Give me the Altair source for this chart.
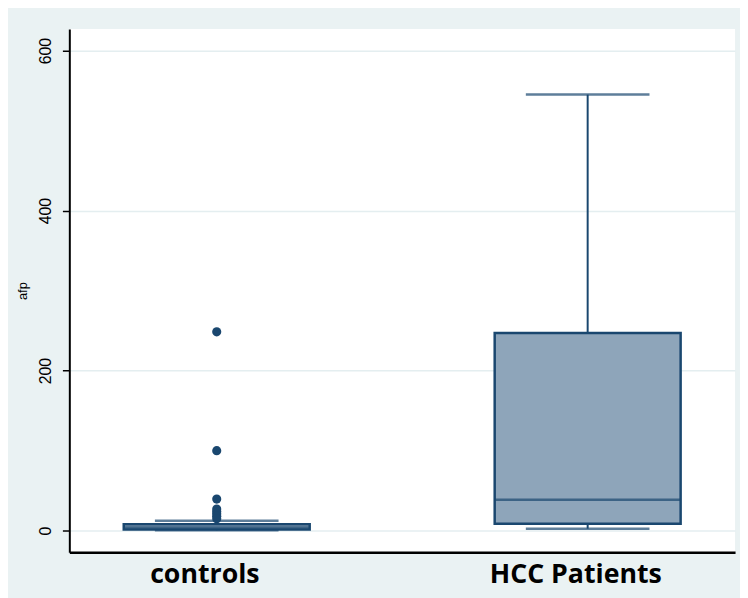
import altair as alt
import pandas as pd

# ---- data ----
groups = ["controls", "HCC Patients"]
whisker_low = [0.5, 2.5]
q1 = [1.5, 8.6]
median = [4.0, 38.7]
q3 = [8.0, 247.0]
whisker_high = [12.5, 545.0]

outlier_group = ["controls"] * 8
outlier_value = [248.5, 100.0, 39.5, 27.0, 24.0, 21.0, 18.0, 15.0]

y_ticks = [0, 200, 400, 600]

stats = pd.DataFrame({
    "group": groups,
    "lo": whisker_low,
    "q1": q1,
    "med": median,
    "q3": q3,
    "hi": whisker_high,
})
outs = pd.DataFrame({"group": outlier_group, "value": outlier_value})

NAVY = "#1A476F"
FILL = "#8EA5BA"

xscale = alt.Scale(domain=groups, paddingInner=0.4987, paddingOuter=0.1467)
yscale = alt.Scale(domain=[-27, 627], nice=False, zero=False)

x_enc = alt.X(
    "group:N",
    scale=xscale,
    sort=groups,
    axis=alt.Axis(
        title=None,
        labelAngle=0,
        labelFont="Open Sans",
        labelFontWeight="bold",
        labelFontSize=27,
        labelColor="#000000",
        labelPadding=10,
        labelOffset=-12,
        ticks=False,
        domainColor="#000000",
        domainWidth=2.5,
        grid=False,
    ),
)

y_axis = alt.Axis(
    title="afp",
    titleFont="Liberation Sans",
    titleFontWeight="normal",
    titleFontSize=13,
    titleColor="#000000",
    titleAngle=270,
    titlePadding=8,
    values=y_ticks,
    labelAngle=270,
    labelAlign="center",
    labelBaseline="bottom",
    labelFont="Liberation Sans",
    labelFontSize=16,
    labelColor="#000000",
    labelPadding=9,
    tickSize=7,
    tickColor="#000000",
    tickWidth=1.5,
    domainColor="#000000",
    domainWidth=2,
    grid=True,
    gridColor="#E4EEF0",
    gridWidth=1.5,
)

base = alt.Chart(stats)

lower_whisker = base.mark_rule(color=NAVY, strokeWidth=2).encode(
    x=x_enc,
    y=alt.Y("lo:Q", scale=yscale, axis=y_axis),
    y2="q1:Q",
)
upper_whisker = base.mark_rule(color=NAVY, strokeWidth=2).encode(
    x=x_enc,
    y=alt.Y("q3:Q", scale=yscale, axis=y_axis),
    y2="hi:Q",
)
box = base.mark_bar(fill=FILL, stroke=NAVY, strokeWidth=2.5).encode(
    x=x_enc,
    y=alt.Y("q1:Q", scale=yscale, axis=y_axis),
    y2="q3:Q",
)
med_tick = base.mark_tick(color=NAVY, size=188, thickness=2.5, orient="horizontal").encode(
    x=x_enc,
    y=alt.Y("med:Q", scale=yscale, axis=y_axis),
)
cap_hi = base.mark_tick(color=NAVY, size=125, thickness=2.5, orient="horizontal").encode(
    x=x_enc,
    y=alt.Y("hi:Q", scale=yscale, axis=y_axis),
)
cap_lo = base.mark_tick(color=NAVY, size=125, thickness=2.5, orient="horizontal").encode(
    x=x_enc,
    y=alt.Y("lo:Q", scale=yscale, axis=y_axis),
)
points = alt.Chart(outs).mark_circle(color=NAVY, opacity=1, size=85).encode(
    x=x_enc,
    y=alt.Y("value:Q", scale=yscale, axis=y_axis),
)

chart = (
    alt.layer(lower_whisker, upper_whisker, box, med_tick, cap_hi, cap_lo, points)
    .properties(
        width=673,
        height=529,
        background="#EAF2F3",
        padding={"left": 62, "top": 18, "right": 5, "bottom": 43},
        autosize=alt.AutoSizeParams(type="none"),
    )
    .configure_view(fill="#FFFFFF", stroke=None)
)

chart.save("out.html", embed_options={"renderer": "svg", "actions": False})
